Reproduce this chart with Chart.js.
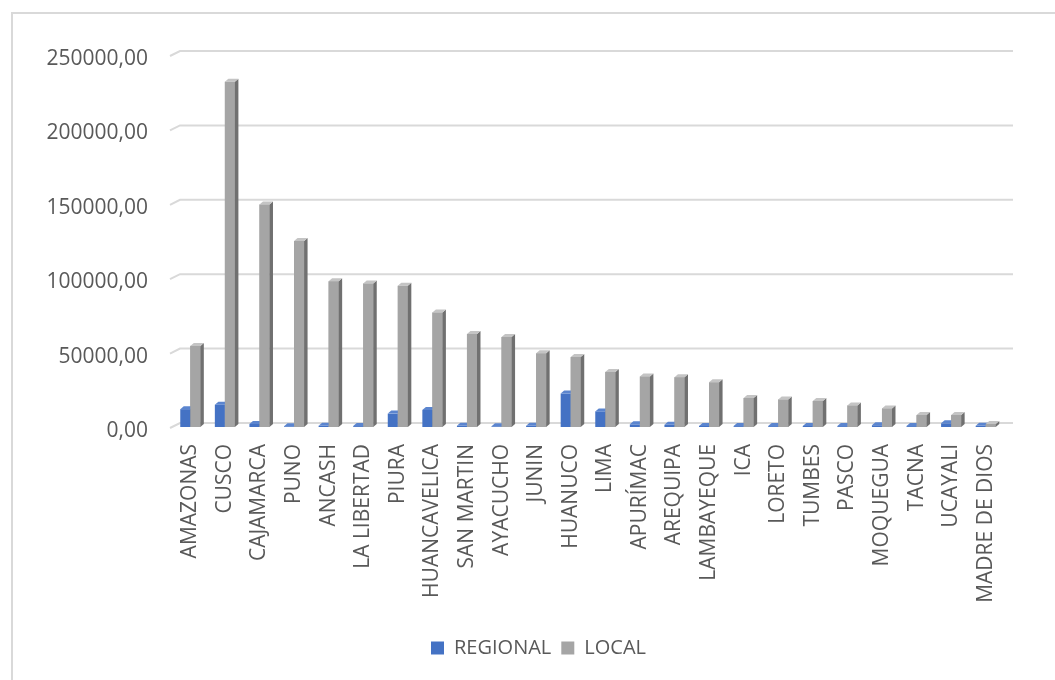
<!DOCTYPE html>
<html>
<head>
<meta charset="utf-8">
<script src="https://cdn.jsdelivr.net/npm/chart.js@4"></script>
<style>
  html, body { margin: 0; padding: 0; background: #fff; overflow: hidden; }
  #wrap { position: relative; width: 1055px; height: 680px; }
  #frame { position: absolute; left: 11px; top: 12px; width: 1100px; height: 720px;
           border-left: 2px solid #d9d9d9; border-top: 2px solid #d9d9d9; }
  canvas { position: absolute; left: 0; top: 0; }
</style>
</head>
<body>
<div id="wrap">
  <div id="frame"></div>
  <canvas id="chart" width="1055" height="680"></canvas>
</div>
<script>
const regiones = ['AMAZONAS', 'CUSCO', 'CAJAMARCA', 'PUNO', 'ANCASH', 'LA LIBERTAD', 'PIURA',
  'HUANCAVELICA', 'SAN MARTIN', 'AYACUCHO', 'JUNIN', 'HUANUCO', 'LIMA', 'APURÍMAC', 'AREQUIPA',
  'LAMBAYEQUE', 'ICA', 'LORETO', 'TUMBES', 'PASCO', 'MOQUEGUA', 'TACNA', 'UCAYALI', 'MADRE DE DIOS'];

const regional = [12000, 15000, 2000, 500, 800, 600, 9000, 11500, 800, 500, 800, 22500,
  10500, 1800, 1500, 700, 600, 600, 700, 600, 1200, 600, 2500, 800];

const local = [54500, 232000, 149500, 125000, 98000, 96500, 95000, 77000, 62500, 60500, 49500, 47000,
  37000, 34000, 33500, 30000, 19500, 18500, 17500, 14500, 12500, 8000, 8000, 2000];

const yTicks = [0, 50000, 100000, 150000, 200000, 250000];

const textColor = '#595959';
const fontName = '"Open Sans", sans-serif';

// colours for front / side / top faces of each series
const faces = [
  { front: '#4472C4', side: '#2F5597', top: '#5B85CF' },
  { front: '#A5A5A5', side: '#707070', top: '#C4C4C4' }
];

const DX = 3.5, DY = 3;

// back-wall grid with a small receding edge on the left
const gridPlugin = {
  id: 'wallGrid',
  beforeDatasetsDraw(chart) {
    const { ctx, chartArea } = chart;
    const y = chart.scales.y;
    ctx.save();
    ctx.strokeStyle = '#d9d9d9';
    ctx.lineWidth = 2;
    yTicks.forEach(v => {
      const py = y.getPixelForValue(v);
      ctx.beginPath();
      ctx.moveTo(chartArea.left - 3, py + 1);
      ctx.lineTo(chartArea.left + 7, py - 4);
      ctx.lineTo(chartArea.right + 10, py - 4);
      ctx.stroke();
    });
    ctx.restore();
  }
};

function drawFaces(ctx, bars, f) {
  bars.forEach(bar => {
    const p = bar.getProps(['x', 'y', 'base', 'width'], true);
    const l = p.x - p.width / 2, r = p.x + p.width / 2;
    ctx.fillStyle = f.side;
    ctx.beginPath();
    ctx.moveTo(r, p.y);
    ctx.lineTo(r + DX, p.y - DY);
    ctx.lineTo(r + DX, p.base - DY);
    ctx.lineTo(r, p.base);
    ctx.closePath();
    ctx.fill();
    ctx.fillStyle = f.top;
    ctx.beginPath();
    ctx.moveTo(l, p.y);
    ctx.lineTo(l + DX, p.y - DY);
    ctx.lineTo(r + DX, p.y - DY);
    ctx.lineTo(r, p.y);
    ctx.closePath();
    ctx.fill();
  });
}

// blue faces first, then the grey columns go over them
const depthPlugin = {
  id: 'depth',
  afterDatasetsDraw(chart) {
    const { ctx } = chart;
    const blue = chart.getDatasetMeta(0).data;
    const grey = chart.getDatasetMeta(1).data;
    ctx.save();
    drawFaces(ctx, blue, faces[0]);
    grey.forEach(bar => bar.draw(ctx));
    drawFaces(ctx, grey, faces[1]);
    ctx.restore();
  }
};

// legend sits a bit right of the canvas centre
const legendShift = {
  id: 'legendShift',
  afterLayout(chart) {
    chart.legend.left += 27;
    chart.legend.right += 27;
  }
};

const ctx = document.getElementById('chart').getContext('2d');
new Chart(ctx, {
  type: 'bar',
  data: {
    labels: regiones,
    datasets: [
      { label: 'REGIONAL', data: regional, backgroundColor: faces[0].front,
        categoryPercentage: 0.58, barPercentage: 1.0 },
      { label: 'LOCAL', data: local, backgroundColor: faces[1].front,
        categoryPercentage: 0.58, barPercentage: 1.0 }
    ]
  },
  options: {
    responsive: false,
    animation: false,
    layout: { padding: { left: 20, right: 52, top: 55, bottom: 12 } },
    scales: {
      x: {
        grid: { display: false },
        border: { display: false },
        ticks: {
          color: textColor, font: { family: fontName, size: 21 },
          minRotation: 90, maxRotation: 90, autoSkip: false, padding: 9
        },
        afterFit(scale) { scale.height = 201; }
      },
      y: {
        min: 0, max: 250000,
        grid: { display: false },
        border: { display: false },
        ticks: {
          stepSize: 50000, color: textColor, padding: 17, labelOffset: 4,
          font: { family: fontName, size: 21 },
          callback: v => v + ',00'
        },
        afterFit(scale) { scale.width = 153; }
      }
    },
    plugins: {
      legend: {
        position: 'bottom',
        labels: {
          color: textColor, font: { family: fontName, size: 20 },
          boxWidth: 13, boxHeight: 13, padding: 10
        }
      },
      tooltip: { enabled: false }
    }
  },
  plugins: [gridPlugin, depthPlugin, legendShift]
});
</script>
</body>
</html>
